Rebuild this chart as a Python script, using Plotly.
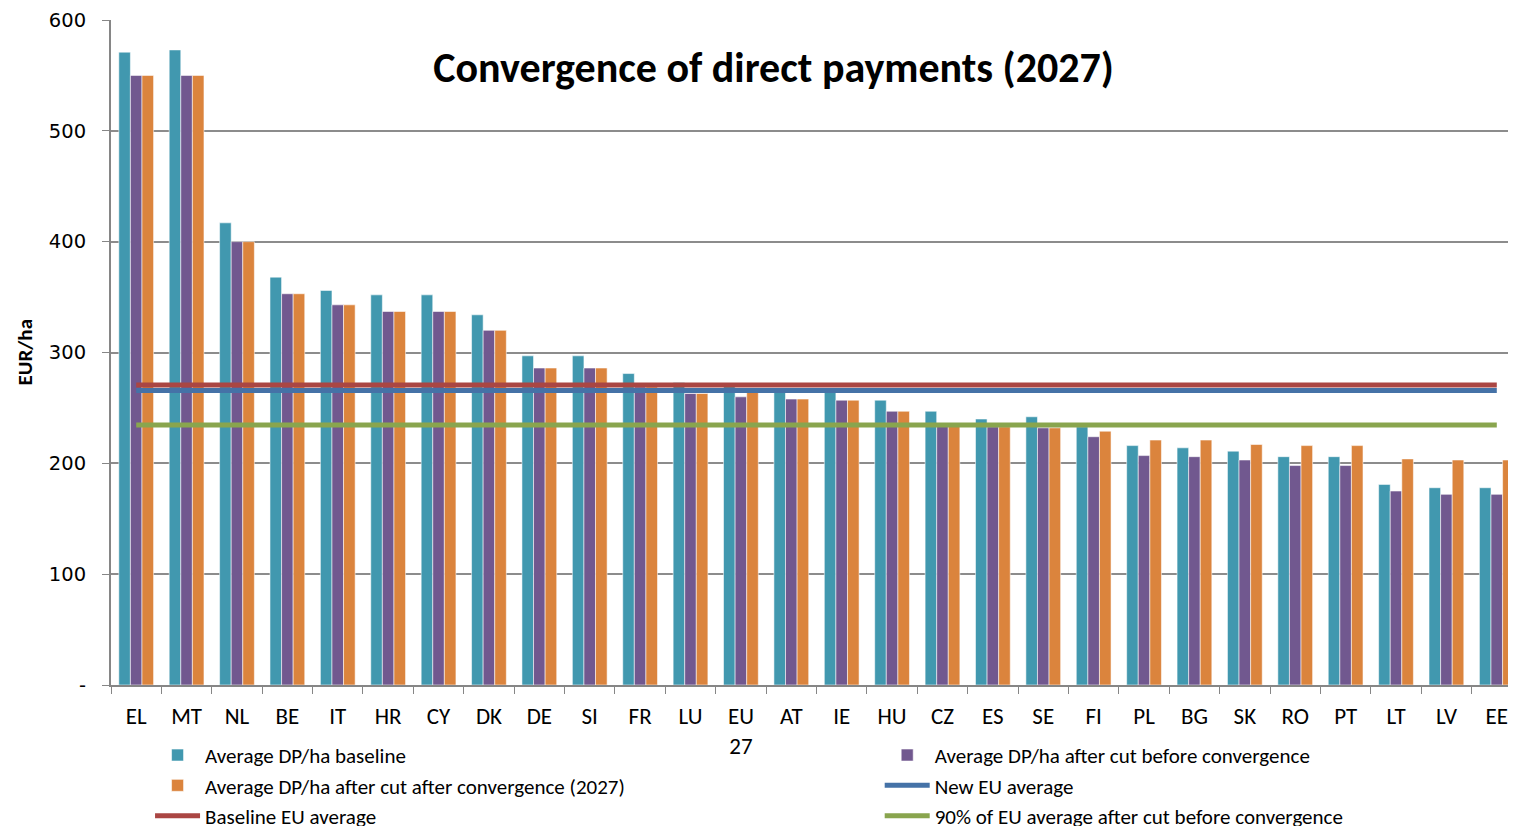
import plotly.graph_objects as go

categories = ["EL", "MT", "NL", "BE", "IT", "HR", "CY", "DK", "DE", "SI", "FR", "LU",
              "EU<br>27", "AT", "IE", "HU", "CZ", "ES", "SE", "FI", "PL", "BG", "SK",
              "RO", "PT", "LT", "LV", "EE"]

baseline = [571, 573, 417, 368, 356, 352, 352, 334, 297, 297, 281, 273,
            270, 268, 266, 257, 247, 240, 242, 233, 216, 214, 211, 206, 206, 181, 178, 178]
after_cut = [550, 550, 400, 353, 343, 337, 337, 320, 286, 286, 269, 263,
             260, 258, 257, 247, 236, 233, 232, 224, 207, 206, 203, 198, 198, 175, 172, 172]
after_conv = [550, 550, 400, 353, 343, 337, 337, 320, 286, 286, 269, 263,
              265, 258, 257, 247, 236, 233, 232, 229, 221, 221, 217, 216, 216, 204, 203, 203]

new_eu_avg = 265.8
baseline_eu_avg = 270.7
ninety_pct_avg = 234.6

y_ticks = [0, 100, 200, 300, 400, 500, 600]
y_tick_text = ["-", "100", "200", "300", "400", "500", "600"]
y_title = "EUR/ha"

TEAL = "#4198AF"
PURPLE = "#71588F"
ORANGE = "#DB843D"
BLUE = "#4572A7"
RED = "#AA4643"
GREEN = "#89A54E"

FONT = "Carlito, 'Liberation Sans Narrow', 'Open Sans', sans-serif"
edge = dict(color="rgba(255,255,255,0.55)", width=1)

fig = go.Figure()
fig.add_trace(go.Bar(x=categories, y=baseline, name="Average DP/ha baseline",
                     marker=dict(color=TEAL, line=edge), legend="legend"))
fig.add_trace(go.Bar(x=categories, y=after_cut, name="Average DP/ha after cut before convergence",
                     marker=dict(color=PURPLE, line=edge), legend="legend2"))
fig.add_trace(go.Bar(x=categories, y=after_conv, name="Average DP/ha after cut after convergence (2027)",
                     marker=dict(color=ORANGE, line=edge), legend="legend"))
ends = [categories[0], categories[-1]]
fig.add_trace(go.Scatter(x=ends, y=[new_eu_avg, new_eu_avg], mode="lines",
                         name="New EU average", line=dict(color=BLUE, width=5),
                         legend="legend2"))
fig.add_trace(go.Scatter(x=ends, y=[baseline_eu_avg, baseline_eu_avg], mode="lines",
                         name="Baseline EU average", line=dict(color=RED, width=5),
                         legend="legend"))
fig.add_trace(go.Scatter(x=ends, y=[ninety_pct_avg, ninety_pct_avg], mode="lines",
                         name="90% of EU average after cut before convergence",
                         line=dict(color=GREEN, width=5), legend="legend2"))

legend_common = dict(orientation="v", xref="container", yref="container",
                     xanchor="left", y=0.12, yanchor="top",
                     itemwidth=45, traceorder="normal",
                     font=dict(family=FONT, size=21, color="#000000"),
                     bgcolor="rgba(0,0,0,0)", borderwidth=0)

fig.update_layout(
    width=1516, height=826,
    margin=dict(l=103, r=2, t=12, b=149, autoexpand=False),
    paper_bgcolor="white", plot_bgcolor="white",
    barmode="group", bargap=0.31, bargroupgap=0,
    font=dict(family=FONT, size=19, color="#000000"),
    title=dict(text="<b>Convergence of direct payments (2027)</b>",
               x=0.505, xanchor="center", y=1 - 59 / 826, yanchor="middle",
               font=dict(family=FONT, size=42, color="#000000")),
    showlegend=True,
    legend=dict(legend_common, x=0.0937),
    legend2=dict(legend_common, x=0.575),
    annotations=[dict(text="<b>" + y_title + "</b>", textangle=-90,
                      xref="paper", yref="paper", x=-0.061, y=0.5,
                      xanchor="center", yanchor="middle", showarrow=False,
                      font=dict(family=FONT, size=21, color="#000000"))],
)
fig.update_xaxes(
    type="category", range=[-0.5, 27.5],
    showline=True, linecolor="#868686", linewidth=2,
    ticks="outside", tickson="boundaries", ticklen=7, tickcolor="#868686", tickwidth=1,
    showgrid=False, tickangle=0, ticklabelstandoff=9,
    tickfont=dict(family=FONT, size=23, color="#000000"),
)
fig.update_yaxes(
    range=[0, 600], tickvals=y_ticks, ticktext=y_tick_text,
    showline=True, linecolor="#868686", linewidth=2,
    ticks="outside", ticklen=7, tickcolor="#868686",
    showgrid=True, gridcolor="#8C8C8C", gridwidth=2,
    zeroline=False,
    tickfont=dict(family="'DejaVu Sans', Verdana, sans-serif", size=19.5, color="#000000"),
    ticklabelstandoff=12,
)

fig.write_html("out.html")
